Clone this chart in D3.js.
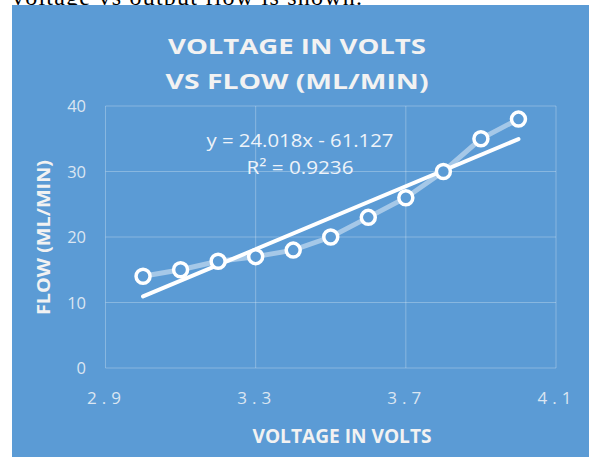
<!DOCTYPE html>
<html lang="en">
<head>
  <meta charset="UTF-8">
  <title>Voltage in Volts vs Flow</title>
  <script src="https://d3js.org/d3.v7.min.js"></script>
  <style>
    body {
      margin: 0;
      background-color: white;
    }
    svg {
      display: block;
    }
  </style>
</head>
<body>
  <div id="viz"></div>

  <script>
    const voltage = [3.0, 3.1, 3.2, 3.3, 3.4, 3.5, 3.6, 3.7, 3.8, 3.9, 4.0];
    const flow = [14, 15, 16.3, 17, 18, 20, 23, 26, 30, 35, 38];
    const xTicks = [2.9, 3.3, 3.7, 4.1];
    const yTicks = [0, 10, 20, 30, 40];
    const trendSlope = 24.018;
    const trendIntercept = -61.127;

    const svgWidth = 589, svgHeight = 457;
    const bg = "#5b9bd5";

    const svg = d3.select("#viz").append("svg")
      .attr("width", svgWidth)
      .attr("height", svgHeight);

    // caption of the page above the chart (cut off in the source too)
    svg.append("text")
      .attr("x", 12)
      .attr("y", 4.5)
      .attr("font-family", "Liberation Serif, serif")
      .attr("font-size", "24px")
      .attr("fill", "#000")
      .attr("textLength", 350)
      .text("voltage vs output flow is shown.");

    // chart panel
    svg.append("rect")
      .attr("x", 12)
      .attr("y", 5)
      .attr("width", svgWidth - 12)
      .attr("height", svgHeight - 5)
      .attr("fill", bg);

    const x = d3.scaleLinear().domain([2.9, 4.1]).range([105.5, 556]);
    const y = d3.scaleLinear().domain([0, 40]).range([368, 106]);

    // gridlines
    svg.append("g")
      .selectAll("line.h")
      .data(yTicks)
      .enter()
      .append("line")
      .attr("x1", x(2.9)).attr("x2", x(4.1))
      .attr("y1", d => y(d)).attr("y2", d => y(d))
      .attr("stroke", "rgba(255,255,255,0.28)")
      .attr("stroke-width", 1);

    svg.append("g")
      .selectAll("line.v")
      .data(xTicks)
      .enter()
      .append("line")
      .attr("x1", d => x(d)).attr("x2", d => x(d))
      .attr("y1", y(0)).attr("y2", y(40))
      .attr("stroke", "rgba(255,255,255,0.28)")
      .attr("stroke-width", 1);

    // tick labels
    svg.append("g")
      .selectAll("text")
      .data(yTicks)
      .enter()
      .append("text")
      .attr("x", 86)
      .attr("y", d => y(d) + 6)
      .attr("text-anchor", "end")
      .attr("font-family", "Open Sans, sans-serif")
      .attr("font-size", "16.5px")
      .attr("fill", "#dbe6f2")
      .text(d => d);

    svg.append("g")
      .selectAll("text")
      .data(xTicks)
      .enter()
      .append("text")
      .attr("x", d => x(d) - 1.5)
      .attr("y", 404)
      .attr("text-anchor", "middle")
      .attr("font-family", "Open Sans, sans-serif")
      .attr("font-size", "17px")
      .attr("fill", "#dbe6f2")
      .attr("textLength", 34)
      .attr("lengthAdjust", "spacing")
      .text(d => d3.format(".1f")(d));

    // data series line
    const line = d3.line()
      .x((d, i) => x(voltage[i]))
      .y(d => y(d));

    svg.append("path")
      .datum(flow)
      .attr("fill", "none")
      .attr("stroke", "rgba(255,255,255,0.45)")
      .attr("stroke-width", 5)
      .attr("d", line);

    // linear trendline
    const xMin = d3.min(voltage), xMax = d3.max(voltage);
    svg.append("line")
      .attr("x1", x(xMin))
      .attr("y1", y(trendSlope * xMin + trendIntercept))
      .attr("x2", x(xMax))
      .attr("y2", y(trendSlope * xMax + trendIntercept))
      .attr("stroke", "#ffffff")
      .attr("stroke-width", 4)
      .attr("stroke-linecap", "round");

    // markers
    svg.append("g")
      .selectAll("circle")
      .data(flow)
      .enter()
      .append("circle")
      .attr("cx", (d, i) => x(voltage[i]))
      .attr("cy", d => y(d))
      .attr("r", 7)
      .attr("fill", bg)
      .attr("stroke", "#ffffff")
      .attr("stroke-width", 3.5);

    // trendline equation
    svg.append("text")
      .attr("x", 300)
      .attr("y", 147)
      .attr("text-anchor", "middle")
      .attr("font-family", "Open Sans, sans-serif")
      .attr("font-size", "18.5px")
      .attr("fill", "#eef3f9")
      .attr("textLength", 187)
      .attr("lengthAdjust", "spacingAndGlyphs")
      .text("y = 24.018x - 61.127");

    svg.append("text")
      .attr("x", 300)
      .attr("y", 174)
      .attr("text-anchor", "middle")
      .attr("font-family", "Open Sans, sans-serif")
      .attr("font-size", "18.5px")
      .attr("fill", "#eef3f9")
      .attr("textLength", 107)
      .attr("lengthAdjust", "spacingAndGlyphs")
      .text("R² = 0.9236");

    // chart title
    const titleLines = ["VOLTAGE IN VOLTS", "VS FLOW (ML/MIN)"];
    svg.append("g")
      .selectAll("text")
      .data(titleLines)
      .enter()
      .append("text")
      .attr("x", 297)
      .attr("y", (d, i) => 54 + i * 35)
      .attr("text-anchor", "middle")
      .attr("font-family", "Open Sans, sans-serif")
      .attr("font-size", "22px")
      .attr("font-weight", "bold")
      .attr("fill", "#f2f2f2")
      .attr("textLength", (d, i) => i === 0 ? 258 : 263)
      .attr("lengthAdjust", "spacingAndGlyphs")
      .text(d => d);

    // axis titles
    svg.append("text")
      .attr("x", 342)
      .attr("y", 443)
      .attr("text-anchor", "middle")
      .attr("font-family", "Open Sans, sans-serif")
      .attr("font-size", "19px")
      .attr("font-weight", "bold")
      .attr("fill", "#f2f2f2")
      .attr("textLength", 179)
      .attr("lengthAdjust", "spacingAndGlyphs")
      .text("VOLTAGE IN VOLTS");

    svg.append("text")
      .attr("transform", "rotate(-90)")
      .attr("x", -237.5)
      .attr("y", 50)
      .attr("text-anchor", "middle")
      .attr("font-family", "Open Sans, sans-serif")
      .attr("font-size", "17px")
      .attr("font-weight", "bold")
      .attr("fill", "#f2f2f2")
      .attr("textLength", 155)
      .attr("lengthAdjust", "spacingAndGlyphs")
      .text("FLOW (ML/MIN)");
  </script>
</body>
</html>
